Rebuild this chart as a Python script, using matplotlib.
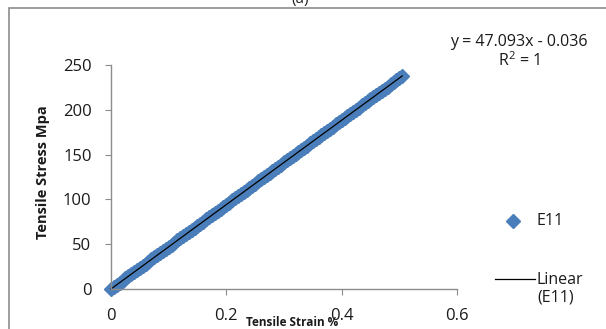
import matplotlib
matplotlib.use("Agg")
import matplotlib.pyplot as plt
from matplotlib.patches import Rectangle
from matplotlib.lines import Line2D

strain = [0.000, 0.005, 0.010, 0.015, 0.020, 0.025, 0.030, 0.035, 0.040, 0.045,
          0.050, 0.055, 0.060, 0.065, 0.070, 0.075, 0.080, 0.085, 0.090, 0.095,
          0.100, 0.105, 0.110, 0.115, 0.120, 0.125, 0.130, 0.135, 0.140, 0.145,
          0.150, 0.155, 0.160, 0.165, 0.170, 0.175, 0.180, 0.185, 0.190, 0.195,
          0.200, 0.205, 0.210, 0.215, 0.220, 0.225, 0.230, 0.235, 0.240, 0.245,
          0.250, 0.255, 0.260, 0.265, 0.270, 0.275, 0.280, 0.285, 0.290, 0.295,
          0.300, 0.305, 0.310, 0.315, 0.320, 0.325, 0.330, 0.335, 0.340, 0.345,
          0.350, 0.355, 0.360, 0.365, 0.370, 0.375, 0.380, 0.385, 0.390, 0.395,
          0.400, 0.405, 0.410, 0.415, 0.420, 0.425, 0.430, 0.435, 0.440, 0.445,
          0.450, 0.455, 0.460, 0.465, 0.470, 0.475, 0.480, 0.485, 0.490, 0.495,
          0.500, 0.505]
stress = [0.0, 2.4, 4.7, 7.1, 9.4, 11.8, 14.1, 16.5, 18.8, 21.2,
          23.5, 25.9, 28.3, 30.6, 33.0, 35.3, 37.7, 40.0, 42.4, 44.7,
          47.1, 49.4, 51.8, 54.2, 56.5, 58.9, 61.2, 63.6, 65.9, 68.3,
          70.6, 73.0, 75.3, 77.7, 80.1, 82.4, 84.8, 87.1, 89.5, 91.8,
          94.2, 96.5, 98.9, 101.2, 103.6, 106.0, 108.3, 110.7, 113.0, 115.4,
          117.7, 120.1, 122.4, 124.8, 127.2, 129.5, 131.9, 134.2, 136.6, 138.9,
          141.3, 143.6, 146.0, 148.3, 150.7, 153.1, 155.4, 157.8, 160.1, 162.5,
          164.8, 167.2, 169.5, 171.9, 174.2, 176.6, 179.0, 181.3, 183.7, 186.0,
          188.4, 190.7, 193.1, 195.4, 197.8, 200.1, 202.5, 204.9, 207.2, 209.6,
          211.9, 214.3, 216.6, 219.0, 221.3, 223.7, 226.0, 228.4, 230.8, 233.1,
          235.5, 237.8]
fit_x = [0.0, 0.505]
fit_y = [0.0, 237.8]
x_ticks = [0, 0.2, 0.4, 0.6]
x_tick_labels = ["0", "0.2", "0.4", "0.6"]
y_ticks = [0, 50, 100, 150, 200, 250]
series_name = "E11"
trend_name = "Linear\n(E11)"
equation = "y = 47.093x - 0.036\nR$^2$ = 1"

plt.rcParams['font.family'] = ['Open Sans', 'DejaVu Sans']
plt.rcParams['mathtext.fontset'] = 'custom'
plt.rcParams['mathtext.rm'] = 'Open Sans'
W, H = 606, 329
fig = plt.figure(figsize=(W/100, H/100), dpi=100)

def fx(px): return px / W
def fy(py): return 1 - py / H

# outer frame
fig.patches.append(Rectangle((fx(9), fy(340)), fx(700), fy(8) - fy(340), transform=fig.transFigure,
                             fill=False, edgecolor='#8c8c8c', lw=1.2))
fig.text(fx(300), fy(0), "(a)", ha='center', va='center', fontsize=11, color='#222222')

BLUE = '#4A7EBB'
ax = fig.add_axes([fx(111), fy(289), fx(457) - fx(111), fy(65) - fy(289)])
ax.plot(strain, stress, linestyle='none', marker='D', markersize=7, color=BLUE,
        markeredgecolor=BLUE, clip_on=False)
ax.plot(fit_x, fit_y, color='black', lw=0.9, clip_on=False)
ax.set_xlim(0, 0.6)
ax.set_ylim(0, 250)
ax.set_xticks(x_ticks)
ax.set_xticklabels(x_tick_labels)
ax.set_yticks(y_ticks)
for s in ['top', 'right']:
    ax.spines[s].set_visible(False)
for s in ['left', 'bottom']:
    ax.spines[s].set_color('#8c8c8c')
    ax.spines[s].set_linewidth(1.0)
ax.tick_params(axis='both', colors='#8c8c8c', labelcolor='#1a1a1a', labelsize=12, length=4, direction='out')
ax.tick_params(axis='x', pad=10)
ax.tick_params(axis='y', pad=10)

fig.text(fx(43), fy(172), "Tensile Stress Mpa", rotation=90, ha='center', va='center',
         fontsize=10.5, fontweight='bold', color='#1a1a1a')
fig.text(fx(292), fy(322), "Tensile Strain %", ha='center', va='center',
         fontsize=8.5, fontweight='bold', color='#1a1a1a')
fig.text(fx(519), fy(52), equation, ha='center', va='center', fontsize=11.5,
         color='#1a1a1a', linespacing=1.05)

# legend
fig.lines.append(Line2D([fx(513)], [fy(221)], marker='D', markersize=7, color=BLUE,
                        linestyle='none', transform=fig.transFigure))
fig.text(fx(536), fy(221), series_name, ha='left', va='center', fontsize=11.5, color='#1a1a1a')
fig.lines.append(Line2D([fx(495), fx(535)], [fy(279), fy(279)], color='black', lw=0.9,
                        transform=fig.transFigure))
fig.text(fx(537), fy(289), trend_name, ha='left', va='center', fontsize=11.5, color='#1a1a1a',
         linespacing=1.15)

fig.savefig("out.png", dpi=100)
